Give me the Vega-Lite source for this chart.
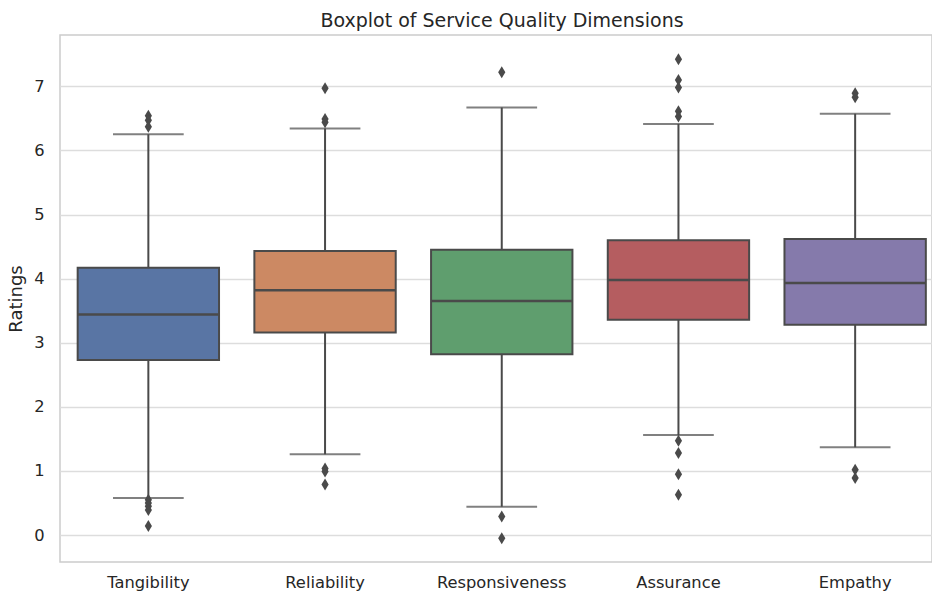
{
  "$schema": "https://vega.github.io/schema/vega-lite/v6.json",
  "autosize": {"type": "none"},
  "padding": {"left": 60, "top": 35, "right": 0, "bottom": 35},
  "width": 872,
  "height": 527,
  "background": "white",
  "title": {
    "text": "Boxplot of Service Quality Dimensions",
    "font": "DejaVu Sans",
    "fontSize": 19,
    "fontWeight": "normal",
    "color": "#262626",
    "baseline": "alphabetic",
    "offset": 9,
    "dx": 6,
    "dy": 20
  },
  "config": {
    "view": {"stroke": "#cccccc", "strokeWidth": 1.5},
    "axis": {
      "labelFont": "DejaVu Sans",
      "titleFont": "DejaVu Sans",
      "labelColor": "#262626",
      "titleColor": "#262626",
      "gridColor": "#dddddd",
      "gridWidth": 1.5,
      "ticks": false,
      "domain": false
    }
  },
  "datasets": {
    "boxes": [
      {"dim": "Tangibility", "lower": 0.58, "q1": 2.73, "median": 3.44, "q3": 4.17, "upper": 6.25},
      {"dim": "Reliability", "lower": 1.26, "q1": 3.16, "median": 3.82, "q3": 4.43, "upper": 6.34},
      {"dim": "Responsiveness", "lower": 0.44, "q1": 2.82, "median": 3.65, "q3": 4.45, "upper": 6.67},
      {"dim": "Assurance", "lower": 1.56, "q1": 3.36, "median": 3.98, "q3": 4.60, "upper": 6.41},
      {"dim": "Empathy", "lower": 1.37, "q1": 3.28, "median": 3.93, "q3": 4.62, "upper": 6.57}
    ],
    "outliers": [
      {"dim": "Tangibility", "value": 6.54},
      {"dim": "Tangibility", "value": 6.47},
      {"dim": "Tangibility", "value": 6.37},
      {"dim": "Tangibility", "value": 0.55},
      {"dim": "Tangibility", "value": 0.50},
      {"dim": "Tangibility", "value": 0.45},
      {"dim": "Tangibility", "value": 0.39},
      {"dim": "Tangibility", "value": 0.14},
      {"dim": "Reliability", "value": 6.97},
      {"dim": "Reliability", "value": 6.49},
      {"dim": "Reliability", "value": 6.44},
      {"dim": "Reliability", "value": 1.04},
      {"dim": "Reliability", "value": 0.99},
      {"dim": "Reliability", "value": 0.79},
      {"dim": "Responsiveness", "value": 7.22},
      {"dim": "Responsiveness", "value": 0.29},
      {"dim": "Responsiveness", "value": -0.05},
      {"dim": "Assurance", "value": 7.42},
      {"dim": "Assurance", "value": 7.10},
      {"dim": "Assurance", "value": 6.98},
      {"dim": "Assurance", "value": 6.61},
      {"dim": "Assurance", "value": 6.53},
      {"dim": "Assurance", "value": 1.47},
      {"dim": "Assurance", "value": 1.28},
      {"dim": "Assurance", "value": 0.95},
      {"dim": "Assurance", "value": 0.63},
      {"dim": "Empathy", "value": 6.89},
      {"dim": "Empathy", "value": 6.83},
      {"dim": "Empathy", "value": 1.02},
      {"dim": "Empathy", "value": 0.89}
    ]
  },
  "encoding": {
    "x": {
      "field": "dim",
      "type": "nominal",
      "sort": ["Tangibility", "Reliability", "Responsiveness", "Assurance", "Empathy"],
      "scale": {"type": "band", "range": [0, 883.5], "paddingInner": 0, "paddingOuter": 0},
      "axis": {"title": null, "labelAngle": 0, "labelFontSize": 16.3, "labelPadding": 12, "grid": false}
    }
  },
  "layer": [
    {
      "data": {"name": "boxes"},
      "mark": {"type": "rule", "color": "#4a4a4a", "strokeWidth": 2},
      "encoding": {
        "y": {
          "field": "lower",
          "type": "quantitative",
          "scale": {"domain": [-0.42, 7.8], "nice": false, "zero": false},
          "axis": {
            "title": "Ratings",
            "titleFontSize": 18,
            "titleFontWeight": "normal",
            "titlePadding": 8,
            "labelFontSize": 16.3,
            "labelPadding": 16,
            "format": "d",
            "values": [0, 1, 2, 3, 4, 5, 6, 7],
            "grid": true
          }
        },
        "y2": {"field": "upper"}
      }
    },
    {
      "data": {"name": "boxes"},
      "mark": {"type": "tick", "color": "#4a4a4a", "size": 70.7, "thickness": 2},
      "encoding": {"y": {"field": "lower", "type": "quantitative"}}
    },
    {
      "data": {"name": "boxes"},
      "mark": {"type": "tick", "color": "#4a4a4a", "size": 70.7, "thickness": 2},
      "encoding": {"y": {"field": "upper", "type": "quantitative"}}
    },
    {
      "data": {"name": "boxes"},
      "mark": {"type": "bar", "width": {"band": 0.8}, "stroke": "#4a4a4a", "strokeWidth": 2, "opacity": 1},
      "encoding": {
        "y": {"field": "q1", "type": "quantitative"},
        "y2": {"field": "q3"},
        "color": {
          "field": "dim",
          "type": "nominal",
          "scale": {
            "domain": ["Tangibility", "Reliability", "Responsiveness", "Assurance", "Empathy"],
            "range": ["#5975a4", "#cc8963", "#5f9e6e", "#b55d60", "#857aab"]
          },
          "legend": null
        }
      }
    },
    {
      "data": {"name": "boxes"},
      "mark": {"type": "tick", "color": "#4a4a4a", "size": 141.4, "thickness": 2.5, "opacity": 1},
      "encoding": {"y": {"field": "median", "type": "quantitative"}}
    },
    {
      "data": {"name": "outliers"},
      "mark": {"type": "point", "filled": true, "shape": "M0,-1L0.6,0L0,1L-0.6,0Z", "size": 144, "color": "#4a4a4a", "opacity": 1},
      "encoding": {"y": {"field": "value", "type": "quantitative"}}
    }
  ]
}
